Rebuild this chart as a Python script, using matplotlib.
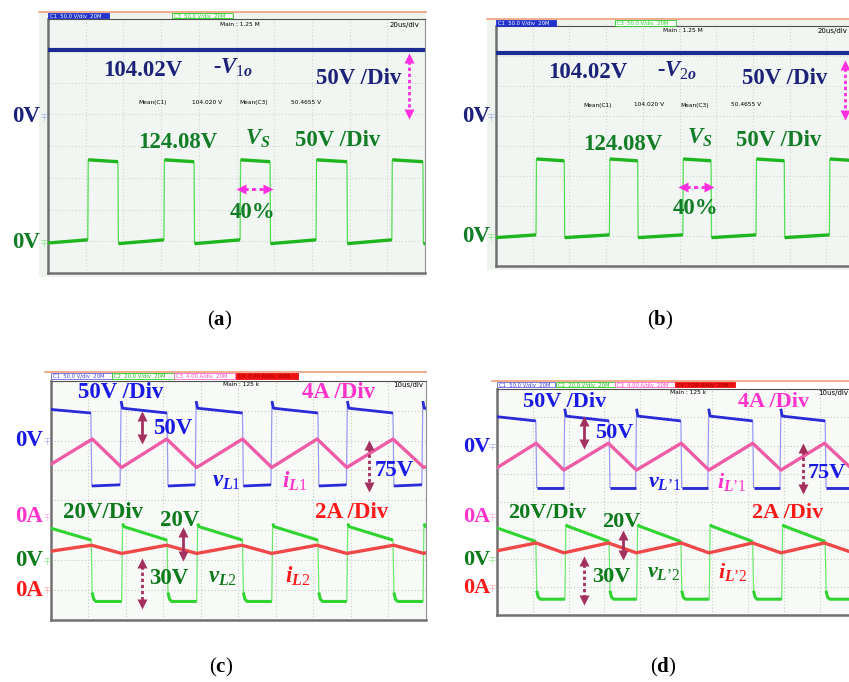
import matplotlib
matplotlib.use("Agg")
import matplotlib.pyplot as plt
import numpy as np
from matplotlib.patches import Rectangle

plt.rcParams['font.family'] = ['Liberation Serif', 'DejaVu Serif']
plt.rcParams['mathtext.fontset'] = 'custom'
plt.rcParams['mathtext.rm'] = 'Liberation Serif'
plt.rcParams['mathtext.it'] = 'Liberation Serif:italic:bold'
plt.rcParams['mathtext.bf'] = 'Liberation Serif:bold'

# ---------------- data ----------------
# Panel (a): 20 us/div, both channels 50 V/div
a_time_span = 200.0
a_vs_rise = [21.1, 61.5, 101.9, 142.2, 182.4]
a_vs_fall = [37.1, 77.5, 117.8, 158.6, 198.9]
a_vs_high = (131.0, 128.0)
a_vs_low = (-1.0, 5.0)
a_vs_first = 0.0
a_neg_v1o = 106.0

# Panel (b)
b_time_span = 200.0
b_vs_rise = [21.8, 61.8, 101.8, 141.7, 181.7]
b_vs_fall = [37.2, 77.2, 117.2, 157.1, 197.1]
b_vs_high = (130.0, 127.0)
b_vs_low = (-1.0, 3.5)
b_vs_first = -1.0
b_neg_v2o = 107.0

# Panel (c): 10 us/div; vL1 50 V/div, iL1 4 A/div, vL2 20 V/div, iL2 2 A/div
c_time_span = 100.0
c_vl1_fall = [10.7, 31.0, 51.1, 71.2, 91.2]
c_vl1_rise = [18.5, 38.5, 58.7, 78.8, 98.9]
c_vl1_high = (54.0, 46.0)
c_vl1_low = (-76.0, -74.0)
c_vl1_first = 52.0
c_vl1_spike = 66.0
c_il1_peak_t = [11.1, 30.9, 51.1, 71.0, 91.2]
c_il1_valley_t = [18.9, 38.9, 58.9, 78.9, 99.4]
c_il1_peak = 10.4
c_il1_valley = 6.6
c_il1_first = 7.0
c_il1_last = 6.7
c_vl2_fall = [10.8, 31.0, 51.1, 71.2, 91.2]
c_vl2_rise = [18.9, 38.9, 58.9, 78.9, 99.2]
c_vl2_high = (23.0, 14.0)
c_vl2_low = (-27.0, -27.0)
c_vl2_first = 22.0
c_vl2_spike = 25.0
c_vl2_knee = 6.0
c_il2_peak_t = [10.9, 30.9, 50.9, 70.9, 91.4]
c_il2_valley_t = [18.9, 38.9, 58.9, 78.9, 99.4]
c_il2_peak = 3.0
c_il2_valley = 2.45
c_il2_first = 2.6
c_il2_last = 2.5

# Panel (d)
d_time_span = 100.0
d_vl1_fall = [10.9, 31.3, 51.3, 71.3, 91.5]
d_vl1_rise = [18.7, 38.7, 58.8, 78.9, 98.9]
d_vl1_high = (55.0, 46.5)
d_vl1_low = (-71.5, -71.5)
d_vl1_first = 54.0
d_vl1_spike = 68.0
d_il1_peak_t = [11.0, 31.1, 51.4, 71.3, 91.3]
d_il1_valley_t = [18.7, 38.9, 59.1, 79.2, 99.3]
d_il1_peak = 10.4
d_il1_valley = 6.6
d_il1_first = 6.9
d_il1_last = 6.7
d_vl2_fall = [10.9, 31.3, 51.3, 71.3, 91.5]
d_vl2_rise = [19.0, 39.0, 59.2, 79.4, 99.3]
d_vl2_high = (24.0, 13.0)
d_vl2_low = (-27.8, -27.8)
d_vl2_first = 22.7
d_vl2_spike = 25.0
d_vl2_knee = 6.0
d_il2_peak_t = [11.0, 31.1, 51.4, 71.3, 91.3]
d_il2_valley_t = [18.7, 38.9, 59.1, 79.2, 99.3]
d_il2_peak = 3.2
d_il2_valley = 2.5
d_il2_first = 2.64
d_il2_last = 2.55

# ---------------- helpers ----------------
W, H = 849, 682
fig = plt.figure(figsize=(W / 100, H / 100), dpi=100)


def px_rect(x0, y0, x1, y1):
    return [x0 / W, 1 - y1 / H, (x1 - x0) / W, (y1 - y0) / H]


def square_trace(t0, t1, rises, falls, hi, lo, first, spike=None, knee=None, edge=0.25):
    edges = sorted([(t, 'r') for t in rises] + [(t, 'f') for t in falls])
    levels = {'h': hi, 'l': lo}
    state = 'h' if edges[0][1] == 'f' else 'l'
    segs = []
    start = t0
    for t, k in edges:
        segs.append((start, t, state))
        start = t + edge
        state = 'h' if k == 'r' else 'l'
    segs.append((start, t1, state))
    full = {'h': [], 'l': []}
    for i, (a, b, s) in enumerate(segs):
        if 0 < i < len(segs) - 1:
            full[s].append(b - a)
    nominal = {s: (np.mean(v) if v else 1.0) for s, v in full.items()}
    xs, ys, flats = [], [], []
    for i, (a, b, s) in enumerate(segs):
        L0, L1 = levels[s]
        px, py = [], []
        if i == 0:
            px += [a, b]
            py += [first, L1]
        else:
            if s == 'h' and spike is not None:
                px += [a, a + 0.4]
                py += [spike, L0]
            elif s == 'l' and knee is not None:
                px += [a, a + 0.4, a + 1.0]
                py += [L0 + knee, L0 + knee * 0.25, L0]
            else:
                px.append(a)
                py.append(L0)
            if i == len(segs) - 1:
                frac = min(1.0, (b - a) / nominal[s])
                px.append(b)
                py.append(L0 + (L1 - L0) * frac)
            else:
                px.append(b)
                py.append(L1)
        keep = [j for j in range(len(px)) if px[j] <= t1]
        px = [px[j] for j in keep]
        py = [py[j] for j in keep]
        xs += px
        ys += py
        flats.append((px, py))
    return np.array(xs), np.array(ys), flats


def triangle_trace(t0, t1, peaks_t, peak_v, valleys_t, valley_v, first, last):
    pts = sorted([(t, peak_v) for t in peaks_t] + [(t, valley_v) for t in valleys_t])
    pts = [p for p in pts if t0 < p[0] < t1]
    xs = [t0] + [p[0] for p in pts] + [t1]
    ys = [first] + [p[1] for p in pts] + [last]
    return np.array(xs), np.array(ys)


def screen(box, span, bg, grid_col):
    ax = fig.add_axes(px_rect(*box), zorder=2)
    ax.set_facecolor(bg)
    ax.set_xlim(0, span)
    ax.set_ylim(0, 8)
    ax.set_xticks(np.linspace(0, span, 11))
    ax.set_yticks(np.arange(0, 9))
    ax.tick_params(length=0, labelbottom=False, labelleft=False)
    ax.grid(True, color=grid_col, ls=(0, (1, 2)), lw=0.8)
    for s in ('left', 'bottom'):
        ax.spines[s].set_color('#707070')
        ax.spines[s].set_linewidth(1.8)
    ax.spines['top'].set_color('#505050')
    ax.spines['top'].set_linewidth(0.8)
    ax.spines['right'].set_color('#909090')
    ax.spines['right'].set_linewidth(0.8)
    return ax


def channel(base, zero_div, per_div):
    ax = base.twinx()
    ax.set_ylim(-zero_div * per_div, (8 - zero_div) * per_div)
    ax.set_xlim(base.get_xlim())
    ax.axis('off')
    return ax


def draw_square(ax, tr, thin_col, thick_col, lw):
    xs, ys, flats = tr
    ax.plot(xs, ys, color=thin_col, lw=0.9, solid_joinstyle='miter')
    for px, py in flats:
        ax.plot(px, py, color=thick_col, lw=lw, solid_capstyle='butt')


# ---------------- background overlay ----------------
bg = fig.add_axes([0, 0, 1, 1], zorder=0)
bg.set_xlim(0, W)
bg.set_ylim(H, 0)
bg.axis('off')
bg.add_patch(Rectangle((39, 12), 387, 265, color='#eef3ee', lw=0))
bg.add_patch(Rectangle((487, 19), 362, 251, color='#eef3ee', lw=0))

# ---------------- panel (a) ----------------
A_BOX = (48, 19, 425, 273)
axa = screen(A_BOX, a_time_span, '#f2f6f2', '#cfd5cf')
cha_b = channel(axa, 4.91, 50)
cha_g = channel(axa, 0.945, 50)
cha_b.axhline(a_neg_v1o, color='#1c2a94', lw=3)
draw_square(cha_g, square_trace(0, a_time_span, a_vs_rise, a_vs_fall, a_vs_high, a_vs_low, a_vs_first),
            '#55dd55', '#1fb51f', 2.4)

# ---------------- panel (b) ----------------
B_BOX = (496, 26, 863, 266)
axb = screen(B_BOX, b_time_span, '#f2f6f2', '#cfd5cf')
chb_b = channel(axb, 4.97, 50)
chb_g = channel(axb, 0.967, 50)
chb_b.axhline(b_neg_v2o, color='#1c2a94', lw=3)
draw_square(chb_g, square_trace(0, b_time_span, b_vs_rise, b_vs_fall, b_vs_high, b_vs_low, b_vs_first),
            '#55dd55', '#1fb51f', 2.4)

# ---------------- panel (c) ----------------
C_BOX = (50.7, 380.7, 426, 620)
axc = screen(C_BOX, c_time_span, '#f8faf8', '#c8cac8')
chc_b = channel(axc, 6.0, 50)
chc_m = channel(axc, 3.45, 4)
chc_g = channel(axc, 1.97, 20)
chc_r = channel(axc, 1.0, 2)
draw_square(chc_b, square_trace(0, c_time_span, c_vl1_rise, c_vl1_fall, c_vl1_high, c_vl1_low,
                                c_vl1_first, spike=c_vl1_spike), '#9a9af2', '#2a2ad6', 2.0)
draw_square(chc_g, square_trace(0, c_time_span, c_vl2_rise, c_vl2_fall, c_vl2_high, c_vl2_low,
                                c_vl2_first, spike=c_vl2_spike, knee=c_vl2_knee), '#6fe86f', '#30d430', 2.2)
chc_m.plot(*triangle_trace(0, c_time_span, c_il1_peak_t, c_il1_peak, c_il1_valley_t, c_il1_valley,
                           c_il1_first, c_il1_last), color='#ee5ca6', lw=2.4)
chc_r.plot(*triangle_trace(0, c_time_span, c_il2_peak_t, c_il2_peak, c_il2_valley_t, c_il2_valley,
                           c_il2_first, c_il2_last), color='#f04848', lw=2.4)

# ---------------- panel (d) ----------------
D_BOX = (496.7, 389, 855.7, 615)
axd = screen(D_BOX, d_time_span, '#f8faf8', '#c8cac8')
chd_b = channel(axd, 5.94, 50)
chd_m = channel(axd, 3.48, 4)
chd_g = channel(axd, 1.95, 20)
chd_r = channel(axd, 0.95, 2)
draw_square(chd_b, square_trace(0, d_time_span, d_vl1_rise, d_vl1_fall, d_vl1_high, d_vl1_low,
                                d_vl1_first, spike=d_vl1_spike), '#9a9af2', '#2a2ad6', 2.0)
draw_square(chd_g, square_trace(0, d_time_span, d_vl2_rise, d_vl2_fall, d_vl2_high, d_vl2_low,
                                d_vl2_first, spike=d_vl2_spike, knee=d_vl2_knee), '#6fe86f', '#30d430', 2.2)
chd_m.plot(*triangle_trace(0, d_time_span, d_il1_peak_t, d_il1_peak, d_il1_valley_t, d_il1_valley,
                           d_il1_first, d_il1_last), color='#ee5ca6', lw=2.4)
chd_r.plot(*triangle_trace(0, d_time_span, d_il2_peak_t, d_il2_peak, d_il2_valley_t, d_il2_valley,
                           d_il2_first, d_il2_last), color='#f04848', lw=2.4)

# ---------------- foreground overlay (labels, arrows, header bars) ----------------
ov = fig.add_axes([0, 0, 1, 1], zorder=10)
ov.set_xlim(0, W)
ov.set_ylim(H, 0)
ov.axis('off')
ov.patch.set_alpha(0)

NAVY = '#1c2278'
DKGREEN = '#127d26'
MAG = '#ff2ee0'
BLUE = '#1a1ae6'
PINK = '#ff33cc'
GREEN = '#0d7a1c'
RED = '#ff1a1a'
MAROON = '#a3305f'
FS = 16.5


def lab(x, y, s, c, fs=FS, italic=False):
    ov.text(x, y, s, color=c, fontsize=fs, fontweight='bold',
            fontstyle='italic' if italic else 'normal', ha='left', va='center')


def tiny(x, y, s, c='black', fs=4.2):
    ov.text(x, y, s, color=c, fontsize=fs, family='DejaVu Sans', ha='left', va='center')


def varrow(x, y0, y1, c, dashed, lw=2.0, head=7):
    ov.plot([x, x], [y0 + head * 0.8, y1 - head * 0.8], color=c, lw=lw,
            ls=(0, (1.2, 1.0)) if dashed else '-')
    ov.plot(x, y0 + head * 0.45, marker='^', ms=head, color=c, mec='none')
    ov.plot(x, y1 - head * 0.45, marker='v', ms=head, color=c, mec='none')


def harrow(y, x0, x1, c, lw=2.0, head=7):
    ov.plot([x0 + head * 0.8, x1 - head * 0.8], [y, y], color=c, lw=lw, ls=(0, (1.5, 1.2)))
    ov.plot(x0 + head * 0.45, y, marker='<', ms=head, color=c, mec='none')
    ov.plot(x1 - head * 0.45, y, marker='>', ms=head, color=c, mec='none')


def gmark(x, y, c):
    ov.plot(x, y, marker=r'$\mp$', ms=5, color=c, mec='none')


def header(y, x0, x1, boxes, ytop):
    ov.plot([x0, x1], [ytop, ytop], color='#f0a07a', lw=1.2)
    for bx0, bx1, fill, edge, txt, tcol in boxes:
        ov.add_patch(Rectangle((bx0, y), bx1 - bx0, 5.6, facecolor=fill, edgecolor=edge, lw=0.6))
        tiny(bx0 + 2, y + 2.9, txt, tcol, fs=3.8)


# panel (a) header & labels
header(12.7, 39, 426, [(48, 109, '#2233cc', '#2233cc', 'C1  50.0 V/div  20M', 'white'),
                       (172, 233, 'white', '#22cc22', 'C3  50.0 V/div  20M', '#22cc22')], 11.8)
tiny(220, 24.5, 'Main : 1.25 M')
tiny(390, 25, '20us/div', fs=5)
lab(103, 70, '104.02V', NAVY)
lab(213, 68, r'-$V_{\mathit{1o}}$', NAVY, italic=True)
lab(316, 78, '50V /Div', NAVY)
varrow(409, 55, 117, MAG, True)
for x, s in [(138, 'Mean(C1)'), (192, '104.020 V'), (239, 'Mean(C3)'), (291, '50.4655 V')]:
    tiny(x, 102.5, s)
lab(138, 142, '124.08V', DKGREEN)
lab(245, 139, r'$V_{\mathit{S}}$', DKGREEN)
lab(295, 140, '50V /Div', DKGREEN)
harrow(189, 238, 271, MAG)
lab(230, 212, '40%', DKGREEN)
lab(12, 117, '0V', NAVY)
lab(12, 243, '0V', DKGREEN)
gmark(44, 117, '#8890e0')
gmark(44, 243, '#55dd55')

# panel (b) header & labels
header(20, 487, 849, [(496, 556, '#2233cc', '#2233cc', 'C1  50.0 V/div  20M', 'white'),
                      (615, 676, 'white', '#22cc22', 'C3  50.0 V/div  20M', '#22cc22')], 19)
tiny(663, 31, 'Main : 1.25 M')
tiny(818, 31, '20us/div', fs=5)
lab(548, 73, '104.02V', NAVY)
lab(657, 71, r'-$V_{\mathit{2o}}$', NAVY, italic=True)
lab(742, 78, '50V /Div', NAVY)
varrow(845, 62, 118, MAG, True)
for x, s in [(583, 'Mean(C1)'), (634, '104.020 V'), (680, 'Mean(C3)'), (731, '50.4655 V')]:
    tiny(x, 105, s)
lab(583, 144, '124.08V', DKGREEN)
lab(687, 138, r'$V_{\mathit{S}}$', DKGREEN)
lab(736, 140, '50V /Div', DKGREEN)
harrow(187, 680, 712, MAG)
lab(673, 208, '40%', DKGREEN)
lab(462, 117, '0V', NAVY)
lab(462, 237, '0V', DKGREEN)
gmark(491, 117, '#8890e0')
gmark(491, 237, '#55dd55')

# panel (c) header & labels
header(373.2, 45, 426, [(50.7, 111.7, 'white', '#6060e0', 'C1  50.0 V/div  20M', '#4040e0'),
                        (112, 174, 'white', '#22cc22', 'C2  20.0 V/div  20M', '#22bb22'),
                        (174, 235, 'white', '#ff66cc', 'C3  4.00 A/div  20M', '#ff44bb'),
                        (236, 298, '#ee1111', '#ee1111', 'C4  2.00 A/div  20M', '#990000')], 372.3)
tiny(223, 384.5, 'Main : 125 k')
tiny(393, 384.5, '10us/div', fs=5)
lab(78, 393, '50V /Div', BLUE)
lab(302, 393, '4A /Div', PINK)
varrow(141.7, 413, 442, MAROON, False)
lab(153, 428, '50V', BLUE)
lab(212, 481, r'$v_{\mathit{L1}}$', BLUE)
lab(282, 481, r'$i_{\mathit{L1}}$', PINK)
varrow(369, 442, 490, MAROON, True)
lab(375, 470, '75V', BLUE)
lab(15, 441, '0V', BLUE)
lab(15, 517, '0A', PINK)
lab(63, 513, '20V/Div', GREEN)
lab(315, 513, '2A /Div', RED)
lab(160, 521, '20V', GREEN)
varrow(182.7, 529, 559, MAROON, False)
lab(15, 561, '0V', GREEN)
lab(15, 590, '0A', RED)
varrow(141.7, 560, 607, MAROON, True)
lab(149, 579, '30V', GREEN)
lab(208, 578, r'$v_{\mathit{L2}}$', GREEN)
lab(285, 576, r'$i_{\mathit{L2}}$', RED)
gmark(47, 441, '#8890e0')
gmark(47, 517, '#ff88cc')
gmark(47, 561, '#55dd55')
gmark(47, 590, '#ff8888')

# panel (d) header & labels
header(381.7, 491.7, 849, [(496.7, 555, 'white', '#6060e0', 'C1  50.0 V/div  20M', '#4040e0'),
                           (556, 615, 'white', '#22cc22', 'C2  20.0 V/div  20M', '#22bb22'),
                           (615, 675, 'white', '#ff66cc', 'C3  4.00 A/div  20M', '#ff44bb'),
                           (675, 735, '#ee1111', '#ee1111', 'C4  2.00 A/div  20M', '#990000')], 380.7)
tiny(670, 393, 'Main : 125 k')
tiny(818, 393, '10us/div', fs=5)
lab(523, 402, '50V /Div', BLUE, fs=16)
lab(738, 402, '4A /Div', PINK, fs=16)
varrow(584, 418, 447, MAROON, False)
lab(595, 433, '50V', BLUE, fs=16)
lab(648, 482, '$v_{\\mathit{L\u20191}}$', BLUE, fs=16)
lab(717, 482, '$i_{\\mathit{L\u20191}}$', PINK, fs=16)
varrow(803, 445, 492, MAROON, True)
lab(808, 473, '75V', BLUE, fs=16)
lab(463, 447, '0V', BLUE, fs=16)
lab(463, 517, '0A', PINK, fs=16)
lab(508, 513, '20V/Div', GREEN, fs=16)
lab(752, 513, '2A /Div', RED, fs=16)
lab(602, 522, '20V', GREEN, fs=16)
varrow(623, 532, 558, MAROON, False)
lab(463, 560, '0V', GREEN, fs=16)
lab(463, 588, '0A', RED, fs=16)
varrow(584, 558, 603, MAROON, True)
lab(592, 577, '30V', GREEN, fs=16)
lab(647, 572, '$v_{\\mathit{L\u20192}}$', GREEN, fs=16)
lab(718, 572, '$i_{\\mathit{L\u20192}}$', RED, fs=16)
gmark(492, 447, '#8890e0')
gmark(492, 517, '#ff88cc')
gmark(492, 560, '#55dd55')
gmark(492, 588, '#ff8888')

# captions
for x, y, s in [(220, 320, 'a'), (660, 320, 'b'), (221, 667, 'c'), (663, 667, 'd')]:
    ov.text(x, y, r'$(\mathbf{' + s + r'})$', fontsize=15, color='black', ha='center', va='center')

fig.savefig('out.png', dpi=100)
